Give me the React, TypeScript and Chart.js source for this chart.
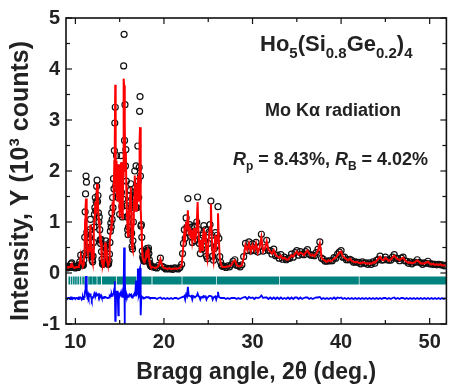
import React, { useEffect, useRef } from 'react';
import { Chart, registerables } from 'chart.js';

Chart.register(...registerables);

// ---------- data ----------
const twoTheta = [
  9.0, 9.1, 9.2, 9.3, 9.4, 9.5, 9.6, 9.7, 9.8, 9.9, 10.0, 10.1, 10.2, 10.3, 10.4, 10.5, 10.6, 10.7, 10.8,
  10.85, 10.9, 10.95, 11.0, 11.05, 11.1, 11.15, 11.2, 11.25, 11.3,
  11.35, 11.4, 11.45, 11.5, 11.55, 11.6, 11.65, 11.7, 11.75, 11.8,
  11.85, 11.9, 11.95, 12.0, 12.05, 12.1, 12.15, 12.2, 12.25, 12.3,
  12.35, 12.4, 12.45, 12.5, 12.55, 12.6, 12.65, 12.7, 12.75, 12.8,
  12.85, 12.9, 12.95, 13.0, 13.05, 13.1, 13.15, 13.2, 13.25, 13.3,
  13.35, 13.4, 13.45, 13.5, 13.55, 13.6, 13.65, 13.7, 13.75, 13.8,
  13.85, 13.9, 13.95, 14.0, 14.05, 14.1, 14.15, 14.2, 14.25, 14.3,
  14.35, 14.4, 14.45, 14.5, 14.55, 14.6, 14.65, 14.7, 14.75, 14.8,
  14.85, 14.9, 14.95, 15.0, 15.05, 15.1, 15.15, 15.2, 15.25, 15.3,
  15.35, 15.4, 15.45, 15.5, 15.55, 15.6, 15.65, 15.7, 15.75, 15.8,
  15.85, 15.9, 15.95, 16.0, 16.05, 16.1, 16.15, 16.2, 16.25, 16.3,
  16.35, 16.4, 16.45, 16.5, 16.55, 16.6, 16.65, 16.7, 16.75, 16.8,
  16.85, 16.9, 16.95, 17.0, 17.05, 17.1, 17.15, 17.2, 17.25, 17.3,
  17.35, 17.4, 17.45, 17.5, 17.55, 17.6, 17.65, 17.7, 17.75, 17.8,
  17.85, 17.9, 17.95, 18.0, 18.05, 18.1, 18.15, 18.2, 18.25, 18.3,
  18.35, 18.4, 18.45, 18.5, 18.55, 18.6,
  18.8, 19.0, 19.2, 19.4, 19.6, 19.8, 20.0, 20.2, 20.4, 20.6, 20.8, 21.0, 21.2, 21.4, 21.6, 21.8,
  22.0, 22.1, 22.2, 22.3, 22.4, 22.5, 22.6, 22.7, 22.8, 22.9,
  23.0, 23.1, 23.2, 23.3, 23.4, 23.5, 23.6, 23.7, 23.8, 23.9,
  24.0, 24.1, 24.2, 24.3, 24.4, 24.5, 24.6, 24.7, 24.8, 24.9,
  25.0, 25.1, 25.2, 25.3, 25.4, 25.5, 25.6, 25.7, 25.8, 25.9,
  26.0, 26.1, 26.2, 26.3, 26.4, 26.5, 26.6,
  26.8,
  27.0, 27.2, 27.4, 27.6, 27.8, 28.0, 28.2, 28.4, 28.6, 28.8,
  29.0, 29.2, 29.4, 29.6, 29.8, 30.0, 30.2, 30.4, 30.6, 30.8,
  31.0, 31.2, 31.4, 31.6, 31.8, 32.0, 32.2, 32.4, 32.6, 32.8,
  33.0, 33.2, 33.4, 33.6, 33.8, 34.0, 34.2, 34.4, 34.6, 34.8,
  35.0, 35.2, 35.4, 35.6, 35.8, 36.0, 36.2, 36.4, 36.6, 36.8,
  37.0, 37.2, 37.4, 37.6, 37.8, 38.0, 38.2, 38.4, 38.6, 38.8,
  39.0, 39.2, 39.4, 39.6, 39.8, 40.0, 40.2, 40.4, 40.6, 40.8,
  41.0, 41.2, 41.4, 41.6, 41.8, 42.0, 42.2, 42.4, 42.6, 42.8,
  43.0, 43.2, 43.4, 43.6, 43.8, 44.0, 44.2, 44.4, 44.6, 44.8,
  45.0, 45.2, 45.4, 45.6, 45.8, 46.0, 46.2, 46.4, 46.6, 46.8,
  47.0, 47.2, 47.4, 47.6, 47.8, 48.0, 48.2, 48.4, 48.6, 48.8,
  49.0, 49.2, 49.4, 49.6, 49.8, 50.0, 50.2, 50.4, 50.6, 50.8,
  51.0, 51.2, 51.4, 51.6, 51.8,
];

// calculated profile (red line), 10^3 counts
const yCalc = [
  0.10, 0.11, 0.12, 0.11, 0.12, 0.16, 0.18, 0.13, 0.11, 0.10, 0.11, 0.12, 0.11, 0.12, 0.14, 0.20, 0.33, 0.20, 0.15,
  0.14, 0.16, 0.22, 0.35, 0.62, 1.05, 1.30, 1.46, 1.40, 0.70,
  0.42, 0.38, 0.52, 0.40, 0.45, 0.62, 0.78, 0.95, 0.70, 0.48,
  0.35, 0.24, 0.20, 0.30, 0.55, 0.85, 1.05, 1.20, 1.40, 1.15,
  1.30, 1.60, 1.75, 1.30, 1.45, 1.10, 0.95, 1.02, 0.78, 0.62,
  0.55, 0.60, 0.40, 0.25, 0.17, 0.16, 0.20, 0.18, 0.25, 0.40,
  0.52, 0.48, 0.60, 0.45, 0.30, 0.22, 0.18, 0.16, 0.17, 0.22,
  0.35, 0.55, 0.78, 0.92, 0.85, 1.10, 1.00, 1.40, 1.20, 1.75,
  1.55, 2.20, 2.60, 3.69, 2.10, 1.60, 2.20, 1.50, 1.90, 1.40,
  2.13, 1.60, 1.90, 1.10, 1.50, 1.70, 2.17, 1.50, 1.25, 1.07,
  1.35, 1.90, 3.81, 3.68, 3.10, 2.94, 2.00, 2.36, 1.70, 1.25,
  1.05, 0.80, 0.72, 0.85, 1.10, 1.30, 1.45, 1.55, 1.68, 1.20,
  0.75, 0.50, 0.45, 0.60, 0.95, 1.30, 1.50, 1.91, 1.40, 1.20,
  1.75, 1.45, 1.20, 1.55, 1.90, 1.70, 1.40, 1.95, 2.60, 2.86,
  1.80, 1.25, 0.90, 0.65, 0.40, 0.30, 0.26, 0.24, 0.22, 0.22,
  0.24, 0.28, 0.34, 0.40, 0.45, 0.38, 0.30, 0.42, 0.47, 0.36,
  0.24, 0.18, 0.15, 0.13, 0.12, 0.12,
  0.11, 0.10, 0.11, 0.14, 0.27, 0.14, 0.10, 0.09, 0.08, 0.09, 0.08, 0.08, 0.09, 0.08, 0.09, 0.10,
  0.15, 0.35, 0.55, 0.80, 0.70, 1.00, 0.85, 1.23, 0.75, 0.90,
  0.68, 0.85, 0.62, 0.75, 0.88, 0.60, 0.72, 0.95, 1.39, 0.80,
  0.55, 0.40, 0.65, 0.45, 0.70, 0.88, 0.60, 0.81, 0.35, 0.26,
  0.55, 0.75, 0.90, 1.36, 0.70, 0.35, 0.23, 0.45, 0.75, 0.55,
  0.70, 1.17, 0.65, 0.30, 0.20, 0.14, 0.12,
  0.12,
  0.12, 0.13, 0.13, 0.15, 0.22, 0.25, 0.16, 0.13, 0.13, 0.15,
  0.30, 0.55, 0.45, 0.58, 0.42, 0.55, 0.45, 0.58, 0.40, 0.50,
  0.70, 0.42, 0.48, 0.62, 0.45, 0.42, 0.38, 0.45, 0.35, 0.33,
  0.30, 0.34, 0.28, 0.30, 0.27, 0.26, 0.30, 0.35, 0.32, 0.38,
  0.42, 0.36, 0.40, 0.38, 0.35, 0.40, 0.44, 0.38, 0.34, 0.36,
  0.33, 0.38, 0.45, 0.58, 0.30, 0.26, 0.24, 0.22, 0.25, 0.23,
  0.25, 0.28, 0.30, 0.35, 0.40, 0.42, 0.32, 0.30, 0.27, 0.25,
  0.28, 0.24, 0.22, 0.21, 0.22, 0.20, 0.19, 0.21, 0.20, 0.19,
  0.18, 0.19, 0.18, 0.21, 0.20, 0.24, 0.28, 0.32, 0.26, 0.25,
  0.30, 0.27, 0.24, 0.26, 0.30, 0.34, 0.30, 0.27, 0.25, 0.28,
  0.30, 0.25, 0.22, 0.20, 0.21, 0.19, 0.20, 0.22, 0.25, 0.22,
  0.19, 0.18, 0.19, 0.20, 0.22, 0.19, 0.17, 0.18, 0.16, 0.17,
  0.16, 0.17, 0.15, 0.15, 0.14,
];

// observed intensities (open circles), 10^3 counts
const yObs = [
  0.12, 0.10, 0.13, 0.12, 0.11, 0.18, 0.20, 0.12, 0.12, 0.11, 0.10, 0.13, 0.12, 0.11, 0.16, 0.22, 0.35, 0.18, 0.16,
  0.16, 0.15, 0.25, 0.38, 0.70, 1.20, 1.55, 1.90, 1.78, 0.80,
  0.45, 0.36, 0.58, 0.42, 0.50, 0.70, 0.85, 1.05, 0.75, 0.50,
  0.33, 0.25, 0.22, 0.33, 0.60, 0.90, 1.15, 1.28, 1.48, 1.22,
  1.40, 1.70, 1.82, 1.40, 1.52, 1.18, 1.00, 1.10, 0.85, 0.65,
  0.58, 0.66, 0.42, 0.27, 0.18, 0.17, 0.21, 0.20, 0.27, 0.43,
  0.55, 0.52, 0.63, 0.47, 0.32, 0.23, 0.19, 0.17, 0.18, 0.24,
  0.37, 0.60, 0.82, 0.98, 0.90, 1.18, 1.05, 1.48, 1.28, 1.85,
  1.65, 2.40, 2.94, 3.25, 1.70, 1.75, 2.30, 1.60, 2.05, 1.48,
  1.80, 1.70, 2.00, 1.15, 1.58, 1.78, 2.30, 1.58, 1.30, 1.10,
  1.45, 2.10, 4.06, 4.68, 2.60, 3.30, 2.10, 2.42, 1.80, 1.32,
  1.10, 0.85, 0.75, 0.90, 1.15, 1.38, 1.52, 1.62, 1.75, 1.28,
  0.78, 0.52, 0.47, 0.63, 1.00, 1.38, 1.58, 2.00, 1.48, 1.28,
  2.10, 1.55, 1.28, 1.65, 2.49, 1.80, 1.48, 2.07, 3.17, 3.46,
  1.90, 0.92, 0.95, 0.70, 0.43, 0.32, 0.28, 0.26, 0.23, 0.24,
  0.25, 0.30, 0.36, 0.43, 0.48, 0.40, 0.32, 0.45, 0.49, 0.38,
  0.26, 0.19, 0.16, 0.14, 0.13, 0.13,
  0.12, 0.11, 0.10, 0.15, 0.29, 0.13, 0.11, 0.08, 0.09, 0.08, 0.09, 0.07, 0.10, 0.09, 0.08, 0.11,
  0.17, 0.38, 0.58, 0.85, 0.68, 1.08, 0.90, 1.46, 0.80, 0.95,
  0.72, 0.90, 0.60, 0.80, 0.92, 0.63, 0.76, 1.00, 1.49, 0.85,
  0.58, 0.38, 0.68, 0.47, 0.74, 0.93, 0.63, 0.85, 0.33, 0.28,
  0.58, 0.80, 0.95, 1.41, 0.74, 0.33, 0.25, 0.48, 0.79, 0.53,
  0.74, 1.30, 0.68, 0.32, 0.21, 0.15, 0.13,
  0.13,
  0.11, 0.14, 0.12, 0.16, 0.23, 0.26, 0.15, 0.14, 0.12, 0.16,
  0.32, 0.58, 0.44, 0.61, 0.43, 0.57, 0.44, 0.60, 0.41, 0.52,
  0.76, 0.43, 0.50, 0.64, 0.44, 0.44, 0.37, 0.47, 0.34, 0.35,
  0.29, 0.36, 0.27, 0.31, 0.26, 0.28, 0.29, 0.37, 0.31, 0.40,
  0.44, 0.35, 0.42, 0.37, 0.36, 0.42, 0.46, 0.37, 0.35, 0.35,
  0.34, 0.40, 0.47, 0.61, 0.29, 0.27, 0.23, 0.23, 0.24, 0.24,
  0.24, 0.30, 0.29, 0.37, 0.41, 0.44, 0.31, 0.31, 0.26, 0.26,
  0.27, 0.25, 0.21, 0.22, 0.21, 0.21, 0.18, 0.22, 0.19, 0.20,
  0.17, 0.20, 0.17, 0.22, 0.19, 0.25, 0.27, 0.33, 0.25, 0.26,
  0.31, 0.26, 0.25, 0.25, 0.31, 0.36, 0.29, 0.28, 0.24, 0.29,
  0.31, 0.24, 0.23, 0.19, 0.22, 0.18, 0.21, 0.21, 0.26, 0.21,
  0.20, 0.17, 0.20, 0.19, 0.23, 0.18, 0.18, 0.17, 0.17, 0.16,
  0.17, 0.16, 0.16, 0.14, 0.15,
];

// Bragg reflection positions (isolated ticks at low angle, then dense runs)
const reflectionTicks = [9.31, 9.57, 9.83, 10.06, 10.31, 10.58, 10.87, 11.1, 11.24, 11.54, 11.7, 11.84];
const reflectionRuns = [
  [11.95, 12.4], [12.48, 12.9], [13.0, 14.6], [14.68, 16.9], [16.98, 18.6], [18.7, 22.0],
  [22.08, 25.9], [25.98, 33.0], [33.08, 42.0], [42.08, 51.95],
];

const xTickValues = [10, 20, 30, 40, 50];
const xMinorValues = [15, 25, 35, 45];
const yTickValues = [-1, 0, 1, 2, 3, 4, 5];
const yMinorValues = [-0.5, 0.5, 1.5, 2.5, 3.5, 4.5];

const DIFF_OFFSET = -0.5;
const REFL_LEVEL = -0.145;

const FONT = "'Liberation Sans', Arial, Helvetica, sans-serif";
const TEXT_COLOR = '#222';

type Part = { t: string; s: number; dy?: number; it?: boolean };

function drawRich(ctx: CanvasRenderingContext2D, x: number, y: number, parts: Part[]) {
  let cx = x;
  for (const p of parts) {
    ctx.font = `${p.it ? 'italic ' : ''}bold ${p.s}px ${FONT}`;
    ctx.fillText(p.t, cx, y + (p.dy || 0));
    cx += ctx.measureText(p.t).width;
  }
}

const decorPlugin = {
  id: 'decor',
  afterDraw(chart: any) {
    const { ctx, chartArea, scales } = chart;
    const { left, right, top, bottom } = chartArea;
    const xs = scales.x;
    const ys = scales.y;
    ctx.save();
    ctx.strokeStyle = '#111';
    ctx.lineWidth = 1.6;
    ctx.strokeRect(left, top, right - left, bottom - top);
    ctx.lineWidth = 1.2;
    const seg = (x1: number, y1: number, x2: number, y2: number) => {
      ctx.beginPath();
      ctx.moveTo(x1, y1);
      ctx.lineTo(x2, y2);
      ctx.stroke();
    };
    xTickValues.forEach((v) => {
      const px = xs.getPixelForValue(v);
      seg(px, bottom, px, bottom - 6);
      seg(px, top, px, top + 6);
    });
    xMinorValues.forEach((v) => {
      const px = xs.getPixelForValue(v);
      seg(px, bottom, px, bottom - 4);
      seg(px, top, px, top + 4);
    });
    yTickValues.forEach((v) => {
      const py = ys.getPixelForValue(v);
      seg(left, py, left + 6, py);
      seg(right, py, right - 6, py);
    });
    yMinorValues.forEach((v) => {
      const py = ys.getPixelForValue(v);
      seg(left, py, left + 4, py);
      seg(right, py, right - 4, py);
    });

    ctx.fillStyle = TEXT_COLOR;
    ctx.textBaseline = 'alphabetic';
    ctx.textAlign = 'left';
    drawRich(ctx, 260, 51, [
      { t: 'Ho', s: 22 }, { t: '5', s: 15, dy: 7 },
      { t: '(Si', s: 22 }, { t: '0.8', s: 15, dy: 7 },
      { t: 'Ge', s: 22 }, { t: '0.2', s: 15, dy: 7 },
      { t: ')', s: 22 }, { t: '4', s: 15, dy: 7 },
    ]);
    drawRich(ctx, 265, 116, [{ t: 'Mo K\u03B1 radiation', s: 18 }]);
    drawRich(ctx, 233, 165, [
      { t: 'R', s: 18, it: true }, { t: 'p', s: 12, dy: 5 },
      { t: ' = 8.43%, ', s: 18 },
      { t: 'R', s: 18, it: true }, { t: 'B', s: 12, dy: 5 },
      { t: ' = 4.02%', s: 18 },
    ]);

    // y-axis title (rotated)
    ctx.save();
    ctx.translate(21, 181);
    ctx.rotate(-Math.PI / 2);
    ctx.textAlign = 'center';
    ctx.textBaseline = 'middle';
    ctx.font = `bold 25px ${FONT}`;
    ctx.fillText('Intensity, Y (10\u00B3 counts)', 0, 0);
    ctx.restore();

    ctx.restore();
  },
};

export default function App() {
  const canvasRef = useRef<HTMLCanvasElement | null>(null);

  useEffect(() => {
    const canvas = canvasRef.current;
    if (!canvas) return;

    const calcData = twoTheta.map((t, i) => ({ x: t, y: yCalc[i] }));
    const obsData = twoTheta.map((t, i) => ({ x: t, y: yObs[i] }));
    const diffData = twoTheta.map((t, i) => ({ x: t, y: yObs[i] - yCalc[i] + DIFF_OFFSET }));

    const datasets: any[] = [
      {
        label: 'Calculated',
        data: calcData,
        borderColor: '#ff0000',
        borderWidth: 2,
        pointRadius: 0,
        tension: 0,
      },
      {
        label: 'Observed',
        data: obsData,
        showLine: false,
        pointRadius: 3,
        pointBackgroundColor: 'rgba(255,255,255,0)',
        pointBorderColor: '#111',
        pointBorderWidth: 1.2,
      },
      {
        label: 'Difference',
        data: diffData,
        borderColor: '#0000ff',
        borderWidth: 1.8,
        pointRadius: 0,
      },
      ...reflectionRuns.map(([a, b]) => ({
        label: 'Bragg positions',
        data: [{ x: a, y: REFL_LEVEL }, { x: b, y: REFL_LEVEL }],
        borderColor: '#00827f',
        borderWidth: 8,
        borderCapStyle: 'butt',
        pointRadius: 0,
      })),
      {
        label: 'Bragg ticks',
        data: reflectionTicks.map((t) => ({ x: t, y: REFL_LEVEL })),
        showLine: false,
        pointStyle: 'line',
        pointRotation: 90,
        pointRadius: 4,
        pointBorderColor: '#00827f',
        pointBorderWidth: 1.6,
      },
    ];

    const chart = new Chart(canvas, {
      type: 'line',
      data: { datasets },
      options: {
        animation: false,
        responsive: false,
        devicePixelRatio: 1,
        events: [],
        layout: { padding: { top: 14, right: 0, bottom: 0, left: 0 } },
        plugins: { legend: { display: false }, tooltip: { enabled: false } },
        scales: {
          x: {
            type: 'linear',
            min: 8.94,
            max: 51.89,
            afterBuildTicks: (s: any) => {
              s.ticks = xTickValues.map((v) => ({ value: v }));
            },
            afterFit: (s: any) => {
              s.height = 67;
            },
            grid: { display: false, drawTicks: false },
            border: { display: false },
            ticks: {
              color: TEXT_COLOR,
              font: { family: FONT, size: 20, weight: 'bold' },
              padding: 6,
              maxRotation: 0,
              autoSkip: false,
              includeBounds: false,
            },
            title: {
              display: true,
              text: 'Bragg angle, 2\u03B8 (deg.)',
              color: TEXT_COLOR,
              font: { family: FONT, size: 23, weight: 'bold' },
              padding: { top: 0, bottom: 5 },
            },
          },
          y: {
            type: 'linear',
            min: -1,
            max: 5,
            afterBuildTicks: (s: any) => {
              s.ticks = yTickValues.map((v) => ({ value: v }));
            },
            afterFit: (s: any) => {
              s.width = 66;
            },
            grid: { display: false, drawTicks: false },
            border: { display: false },
            ticks: {
              color: TEXT_COLOR,
              font: { family: FONT, size: 20, weight: 'bold' },
              padding: 6,
              autoSkip: false,
              includeBounds: false,
            },
            title: { display: false },
          },
        },
      } as any,
      plugins: [decorPlugin],
    });

    return () => chart.destroy();
  }, []);

  return (
    <div style={{ position: 'absolute', left: 0, top: 0, width: 452, height: 391, background: '#fff' }}>
      <canvas ref={canvasRef} width={452} height={391} style={{ display: 'block' }} />
    </div>
  );
}
